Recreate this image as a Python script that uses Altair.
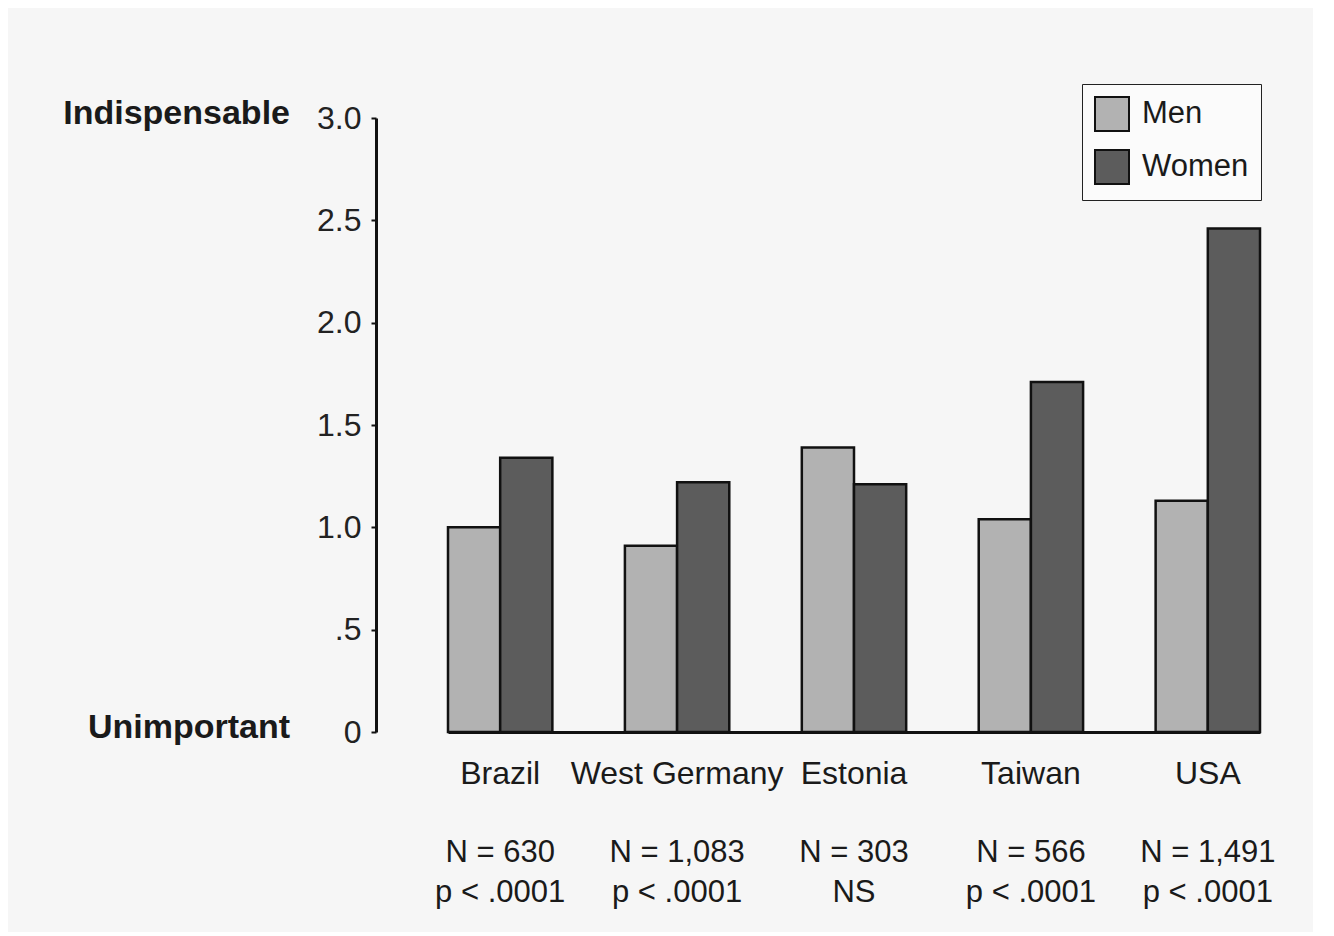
import altair as alt
import pandas as pd

countries = ["Brazil", "West Germany", "Estonia", "Taiwan", "USA"]
n_labels = ["N = 630", "N = 1,083", "N = 303", "N = 566", "N = 1,491"]
p_labels = ["p < .0001", "p < .0001", "NS", "p < .0001", "p < .0001"]
men = [1.00, 0.91, 1.39, 1.04, 1.13]
women = [1.34, 1.22, 1.21, 1.71, 2.46]
sexes = ["Men", "Women"]
anchor_names = ["Indispensable", "Unimportant"]
anchor_values = [3.0, 0.0]

rows = []
for c, m, w in zip(countries, men, women):
    rows.append({"country": c, "sex": "Men", "value": m})
    rows.append({"country": c, "sex": "Women", "value": w})
df = pd.DataFrame(rows)
stats = pd.DataFrame({"country": countries, "n": n_labels, "p": p_labels})
anchors = pd.DataFrame({"name": anchor_names, "value": anchor_values})

FONT = "Liberation Sans"
W, H = 907, 614

x_scale = alt.Scale(domain=countries, range=[72, 884], paddingInner=0.41, paddingOuter=0)

bars = alt.Chart(df).mark_bar(stroke="#111111", strokeWidth=2.5).encode(
    x=alt.X(
        "country:N", sort=countries, scale=x_scale,
        axis=alt.Axis(
            title=None, domain=False, ticks=False, labelAngle=0,
            labelFont=FONT, labelFontSize=32, labelColor="#1a1a1a",
            labelPadding=26, labelBaseline="top", labelLimit=0, labelOverlap=False,
        ),
    ),
    xOffset=alt.XOffset("sex:N", sort=sexes, scale=alt.Scale(paddingInner=0, paddingOuter=0)),
    y=alt.Y(
        "value:Q",
        scale=alt.Scale(domain=[0, 3], nice=False, zero=True),
        axis=alt.Axis(
            title=None, values=[0, 0.5, 1, 1.5, 2, 2.5, 3],
            labelExpr="datum.value == 0 ? '0' : datum.value == 0.5 ? '.5' : format(datum.value, '.1f')",
            labelFont=FONT, labelFontSize=32, labelColor="#222222",
            labelPadding=10, tickSize=5, tickColor="#111111", tickWidth=2,
            domainColor="#111111", domainWidth=3,
            grid=True, gridColor="#111111", gridWidth=3,
            gridOpacity={"expr": "datum.value == 0 ? 1 : 0"},
        ),
    ),
    color=alt.Color(
        "sex:N", sort=sexes,
        scale=alt.Scale(domain=sexes, range=["#b2b2b2", "#5c5c5c"]),
        legend=alt.Legend(
            title=None, orient="none", legendX=706, legendY=-34,
            symbolType="square", symbolSize=1156, symbolStrokeColor="#111111",
            symbolStrokeWidth=2, labelFont=FONT, labelFontSize=31, labelColor="#1a1a1a",
            strokeColor="#222222", fillColor="#fbfbfb", padding=12, rowPadding=11,
            labelOffset=12,
        ),
    ),
)

n_text = alt.Chart(stats).mark_text(
    align="center", baseline="middle", font=FONT, fontSize=31, color="#1a1a1a",
).encode(
    x=alt.X("country:N", sort=countries, scale=x_scale),
    y=alt.value(735),
    text="n:N",
)

p_text = alt.Chart(stats).mark_text(
    align="center", baseline="middle", font=FONT, fontSize=31, color="#1a1a1a",
).encode(
    x=alt.X("country:N", sort=countries, scale=x_scale),
    y=alt.value(775),
    text="p:N",
)

anchor_text = alt.Chart(anchors).mark_text(
    align="right", baseline="middle", font=FONT, fontSize=34, fontWeight="bold",
    color="#1a1a1a", dy=-4,
).encode(
    y=alt.Y("value:Q"),
    x=alt.value(-86),
    text="name:N",
)

chart = alt.layer(bars, n_text, p_text, anchor_text).properties(
    width=W, height=H,
    autosize=alt.AutoSizeParams(type="none"),
    padding={"left": 368, "top": 110, "right": 30, "bottom": 200},
    background="#f6f6f6",
).configure_view(stroke=None)

chart.save("out.html", embed_options={"renderer": "svg", "actions": False})
